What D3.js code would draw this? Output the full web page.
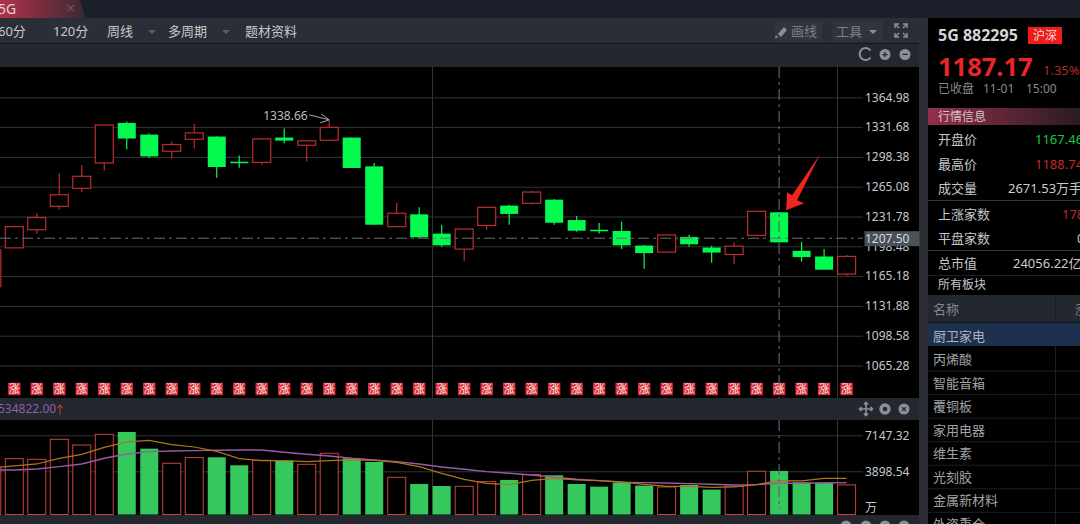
<!DOCTYPE html>
<html>
<head>
<meta charset="utf-8">
<script src="https://cdn.jsdelivr.net/npm/d3@7/dist/d3.min.js"></script>
<style>
  html, body { margin: 0; padding: 0; background: #000; overflow: hidden; }
  svg { display: block; }
  text { font-family: "Noto Sans", "Noto Sans CJK SC", sans-serif; }
</style>
</head>
<body>
<script>
// candle data (first candle is cut by the left edge)
const opens  = [1153.4,1196.7,1217.0,1243.1,1263.3,1291.6,1336.3,1323.3,1304.7,1318.1,1321.1,1293.0,1292.2,1320.0,1311.4,1317.0,1320.0,1287.8,1220.4,1234.2,1212.6,1195.3,1221.8,1243.9,1246.5,1250.6,1227.8,1217.0,1215.6,1199.3,1192.0,1208.9,1197.1,1189.3,1210.7,1236.5,1193.4,1187.1,1167.46];
const closes = [1194.5,1220.4,1230.6,1256.1,1276.7,1334.1,1318.9,1298.9,1312.2,1325.2,1287.1,1291.9,1318.5,1316.6,1316.3,1331.4,1286.0,1222.6,1235.4,1208.5,1199.6,1217.8,1242.0,1234.7,1259.1,1224.8,1215.9,1215.9,1199.6,1190.9,1211.2,1200.7,1191.5,1198.6,1237.6,1202.9,1186.4,1172.3,1187.17];
const highs  = [1194.5,1221.5,1235.0,1279.7,1289.3,1334.1,1337.8,1324.4,1315.5,1335.2,1321.1,1300.0,1318.9,1330.0,1316.6,1338.66,1320.0,1291.6,1247.2,1242.0,1222.3,1218.2,1242.8,1245.0,1260.6,1251.1,1232.3,1224.5,1225.9,1199.8,1211.2,1211.5,1199.0,1202.6,1237.6,1236.5,1203.7,1195.6,1188.74];
const lows   = [1153.4,1196.7,1212.6,1239.5,1258.9,1283.0,1306.6,1297.5,1296.7,1307.7,1275.2,1286.3,1289.7,1313.6,1293.3,1317.0,1286.0,1222.6,1220.4,1208.2,1198.0,1182.0,1217.0,1222.6,1245.0,1222.6,1214.8,1212.9,1195.6,1173.4,1192.0,1198.0,1180.1,1179.0,1210.7,1202.9,1181.5,1172.3,1165.6];

// volume pane (unit 万)
const volumes = [4229,5042,4981,6786,6275,7237,7448,5944,4620,5132,5162,4440,4891,4861,4530,5523,5072,4741,3357,2755,2575,2545,2966,3116,3598,3538,2755,2515,2876,2605,2485,2665,2244,2545,3899,3929,2906,2876,2671.53];
const volMaFast = [4229,4380,4560,5072,5433,6064,6546,6696,6305,6094,5703,5042,4861,4861,4771,4861,4921,4891,4711,4320,3718,3177,2816,2695,3087,3267,3116,3057,2936,2725,2545,2545,2455,2485,2695,3057,3027,3267,3267];
const volMaSlow = [4019,4019,4109,4320,4560,5072,5463,5673,5734,5764,5794,5824,5824,5613,5433,5283,5072,4921,4771,4560,4290,4079,3868,3718,3568,3357,3177,3057,2906,2876,2846,2786,2725,2665,2695,2816,2816,2846,2876];

const priceTicks = [1364.98,1331.68,1298.38,1265.08,1231.78,1198.48,1165.18,1131.88,1098.58,1065.28];
const volTicks = [7147.32,3898.54];
const lastPrice = 1207.50;
const peakIndex = 15;
const arrowIndex = 35;

const toolbarItems = [["60分",-2],["120分",53],["周线",107],["多周期",168],["题材资料",245]];
const infoRows = [
  ["开盘价","1167.46",1035,"#17c93f",144],
  ["最高价","1188.74",1035,"#c8282c",169],
  ["成交量","2671.53万手",1008,"#c8ccd0",193],
  ["上涨家数","178",1062,"#c8282c",219],
  ["平盘家数","0",1077,"#c8ccd0",243],
  ["总市值","24056.22亿",1013,"#c8ccd0",268]
];
const sectorNames = ["厨卫家电","丙烯酸","智能音箱","覆铜板","家用电器","维生素","光刻胶","金属新材料","外资重仓"];

const width = 1080, height = 524;
const svg = d3.select("body").append("svg").attr("width", width).attr("height", height);

const x = d3.scaleLinear().domain([0, 38]).range([-8.2, 846.6]);
const y = d3.scaleLinear().domain([1364.98, 1065.28]).range([97.3, 365.5]);
const yVol = d3.scaleLinear().domain([0, 7147.32]).range([514.5, 435.3]);
const bodyW = 18;

const RED = "#bd2c2e", GREEN = "#03fb50", VOL_RED = "#c8453a", VOL_GREEN = "#35c85c";

// background blocks
function block(px, py, w, h, fill) {
  return svg.append("rect").attr("x", px).attr("y", py).attr("width", w).attr("height", h).attr("fill", fill);
}
const defs = svg.append("defs");
function gradient(id, a, b) {
  const g = defs.append("linearGradient").attr("id", id);
  g.append("stop").attr("offset", "0%").attr("stop-color", a);
  g.append("stop").attr("offset", "100%").attr("stop-color", b);
}
gradient("tabFill", "#b3304a", "#3a2a34");
gradient("infoFill", "#93304a", "#2a1c22");

block(0, 0, width, 18, "#1a1f29");
block(0, 18, 919, 25, "#2a2f37");
block(0, 43, 919, 1, "#14161a");
block(0, 44, 919, 23, "#23272e");
block(0, 67, 919, 331, "#000");
block(0, 398, 919, 22, "#23272e");
block(0, 420, 919, 95, "#000");
block(0, 515, 919, 9, "#23272e");
block(919, 18, 9, 506, "#2b2e34");
block(928, 18, 152, 506, "#000");
svg.append("path").attr("d", "M0,0H80L85,18H0Z").attr("fill", "url(#tabFill)");

function label(txt, px, py, size, color, weight) {
  return svg.append("text").attr("x", px).attr("y", py).attr("font-size", size)
    .attr("fill", color).attr("font-weight", weight || "normal").text(txt);
}
function triangle(cx, cy, color) {
  svg.append("path").attr("d", `M${cx-4},${cy-2}H${cx+4}L${cx},${cy+2}Z`).attr("fill", color);
}

// tab + toolbar
label("5G", -2, 14, 14, "#d8d8d8");
label("×", 66, 14, 16, "#77505a");
toolbarItems.forEach(d => label(d[0], d[1], 36, 13, "#c4c8cc"));
triangle(152, 32, "#5a5f66");
triangle(226, 32, "#5a5f66");
block(775, 21, 47, 20, "#30353d");
block(833, 21, 50, 20, "#30353d");
svg.append("path").attr("d", "M776,35l2,3h-3zM778,34l6,-7l3,3l-6,7z").attr("fill", "#8c9096");
label("画线", 791, 36, 13, "#7c8187");
label("工具", 836, 36, 13, "#7c8187");
triangle(873, 32, "#8c9096");
svg.append("path").attr("fill", "none").attr("stroke", "#8c9096").attr("stroke-width", 1.5)
  .attr("d", "M895,28v-4h4M907,28v-4h-4M895,33v4h4M907,33v4h-4M895,24l4,4M907,24l-4,4M895,37l4,-4M907,37l-4,-4");

// round buttons on the grey strips
function roundIcon(cx, cy, glyph) {
  svg.append("circle").attr("cx", cx).attr("cy", cy).attr("r", 5.5).attr("fill", "#8a9098");
  svg.append("text").attr("x", cx).attr("y", cy + 3.5).attr("text-anchor", "middle")
    .attr("font-size", 11).attr("font-weight", "bold").attr("fill", "#23272e").text(glyph);
}
svg.append("path").attr("d", "M870.5,50.5a6,6 0 1 0 0,7").attr("fill", "none").attr("stroke", "#8a9098").attr("stroke-width", 2);
roundIcon(885, 54.5, "+");
roundIcon(905, 54.5, "−");
svg.append("path").attr("fill", "none").attr("stroke", "#8a9098").attr("stroke-width", 1.6)
  .attr("d", "M860,409h12M866,403v12M861.5,407l-2,2l2,2M870.5,407l2,2l-2,2M864,404.5l2,-2l2,2M864,413.5l2,2l2,-2");
svg.append("circle").attr("cx", 885).attr("cy", 409).attr("r", 4).attr("fill", "none").attr("stroke", "#8a9098").attr("stroke-width", 3.4);
roundIcon(904, 409, "×");
[846, 866, 885, 904].forEach(cx => svg.append("circle").attr("cx", cx).attr("cy", 526).attr("r", 5.5).attr("fill", "#8a9098"));

// price axis with full width grid lines
const priceAxis = d3.axisRight(y).tickValues(priceTicks).tickFormat(d3.format(".2f")).tickSize(-863).tickPadding(2);
const gPrice = svg.append("g").attr("transform", "translate(863,0)").call(priceAxis);
const volAxis = d3.axisRight(yVol).tickValues(volTicks).tickFormat(d3.format(".2f")).tickSize(-863).tickPadding(2);
const gVol = svg.append("g").attr("transform", "translate(863,0)").call(volAxis);
[gPrice, gVol].forEach(g => {
  g.select(".domain").remove();
  g.selectAll("line").attr("stroke", "#333436");
  g.selectAll("text").attr("fill", "#c4c8cc").attr("font-size", 12).attr("font-family", '"Noto Sans"');
});
label("万", 865, 512, 12, "#c4c8cc");

// fixed vertical rules
[432.5, 837.5].forEach(px => {
  svg.append("line").attr("x1", px).attr("x2", px).attr("y1", 67).attr("y2", 398).attr("stroke", "#333436");
  svg.append("line").attr("x1", px).attr("x2", px).attr("y1", 420).attr("y2", 515).attr("stroke", "#333436");
});

// candles
const idx = d3.range(opens.length);
const candles = svg.append("g").selectAll("g").data(idx).join("g");
candles.append("line")
  .attr("x1", i => x(i)).attr("x2", i => x(i))
  .attr("y1", i => y(highs[i])).attr("y2", i => y(lows[i]))
  .attr("stroke", i => closes[i] >= opens[i] ? RED : GREEN)
  .attr("stroke-width", 1.2);
candles.append("rect")
  .attr("x", i => x(i) - bodyW / 2)
  .attr("width", bodyW)
  .attr("y", i => y(Math.max(opens[i], closes[i])))
  .attr("height", i => Math.max(1.5, Math.abs(y(opens[i]) - y(closes[i]))))
  .attr("fill", i => closes[i] >= opens[i] ? "#000" : GREEN)
  .attr("stroke", i => closes[i] >= opens[i] ? RED : "none")
  .attr("stroke-width", 1.2);

// "涨" flags under the candles
const flags = svg.append("g").selectAll("g").data(idx.slice(1)).join("g")
  .attr("transform", i => `translate(${x(i)},389)`);
flags.append("rect").attr("x", -6.2).attr("y", -6.2).attr("width", 12.4).attr("height", 12.4).attr("fill", "#d62a34");
flags.append("text").attr("text-anchor", "middle").attr("y", 4).attr("font-size", 11).attr("fill", "#fbe9ea").text("涨");

// volume bars
svg.append("g").selectAll("rect").data(idx).join("rect")
  .attr("x", i => x(i) - bodyW / 2)
  .attr("width", bodyW)
  .attr("y", i => yVol(volumes[i]))
  .attr("height", i => yVol(0) - yVol(volumes[i]))
  .attr("fill", i => closes[i] >= opens[i] ? "#000" : VOL_GREEN)
  .attr("stroke", i => closes[i] >= opens[i] ? VOL_RED : "none")
  .attr("stroke-width", 1);

// volume moving averages
const maLine = d3.line().x((d, i) => x(i)).y(d => yVol(d));
svg.append("path").datum(volMaSlow).attr("d", maLine).attr("fill", "none").attr("stroke", "#9a5aa6").attr("stroke-width", 1.4);
svg.append("path").datum(volMaFast).attr("d", maLine).attr("fill", "none").attr("stroke", "#b0741f").attr("stroke-width", 1.2);

label("534822.00", -2, 413, 12, "#8d5fa8");
svg.append("path").attr("d", "M60,415v-10M57.5,408l2.5,-3l2.5,3").attr("fill", "none").attr("stroke", "#a83a34").attr("stroke-width", 1.2);

// crosshair and last price line
const dash = "11 4 3 4";
svg.append("line").attr("x1", 0).attr("x2", 863).attr("y1", y(lastPrice)).attr("y2", y(lastPrice))
  .attr("stroke", "#6a7078").attr("stroke-dasharray", dash);
[[67, 398], [420, 509]].forEach(r => {
  svg.append("line").attr("x1", x(arrowIndex)).attr("x2", x(arrowIndex)).attr("y1", r[0]).attr("y2", r[1])
    .attr("stroke", "#5c6269").attr("stroke-width", 1.2).attr("stroke-dasharray", dash);
});
block(864.5, y(lastPrice) - 7, 55, 15, "#4b5159");
label(d3.format(".2f")(lastPrice), 865, y(lastPrice) + 4.5, 12, "#d8dadc");

// peak note
const peakX = x(peakIndex), peakY = y(highs[peakIndex]);
label(d3.format(".2f")(highs[peakIndex]), peakX - 66, peakY - 1, 12, "#b8bcc0");
svg.append("path").attr("fill", "none").attr("stroke", "#a8acb0")
  .attr("d", `M${peakX-20},${peakY-6}L${peakX},${peakY-1}M${peakX-8},${peakY-7}L${peakX},${peakY-1}L${peakX-9},${peakY+2}`);

// red pointer on the marked candle
const ax = x(arrowIndex) + 7, ay = y(closes[arrowIndex]) - 32;
svg.append("path").attr("fill", "#f0241f")
  .attr("d", `M${ax},${ay}l1,-18l5,3l28,-41l-23,46l7,3z`);

// right hand panel
label("5G 882295", 938, 41, 16, "#d4d6d8", "bold");
block(1028, 27, 34, 17, "#f01c1c");
label("沪深", 1033, 40, 12, "#f8d8d8");
label("1187.17", 938, 76, 25.5, "#e8262a", "bold");
label("1.35%", 1043, 75, 13, "#b02a2c");
label("已收盘", 938, 93, 12, "#858a90");
label("11-01", 983, 93, 12, "#858a90");
label("15:00", 1026, 93, 12, "#858a90");
block(928, 108, 152, 17, "url(#infoFill)");
label("行情信息", 938, 121, 12, "#d0c4c8");
infoRows.forEach(d => {
  label(d[0], 938, d[4], 13, "#c4c8cc");
  label(d[1], d[2], d[4], 13, d[3]);
});
[200, 250].forEach(py => block(928, py, 152, 1, "#33363a"));
block(928, 275, 152, 1, "#1e2024");
label("所有板块", 938, 289, 12, "#c4c8cc");
block(928, 295, 152, 27, "#23272e");
block(1055, 295, 1, 229, "#1c1e22");
label("名称", 933, 314, 13, "#83888e");
label("涨", 1075, 314, 13, "#83888e");
block(928, 323, 152, 23, "#1e3050");
block(928, 322, 152, 1, "#101820");
sectorNames.forEach((name, i) => {
  const rowY = 340.5 + i * 23.55;
  label(name, 933, rowY, 13, i === 0 ? "#aeb4bc" : "#a0a4a8");
  if (i > 0) block(928, rowY + 6.5, 152, 1, "#1c1e22");
});
</script>
</body>
</html>
